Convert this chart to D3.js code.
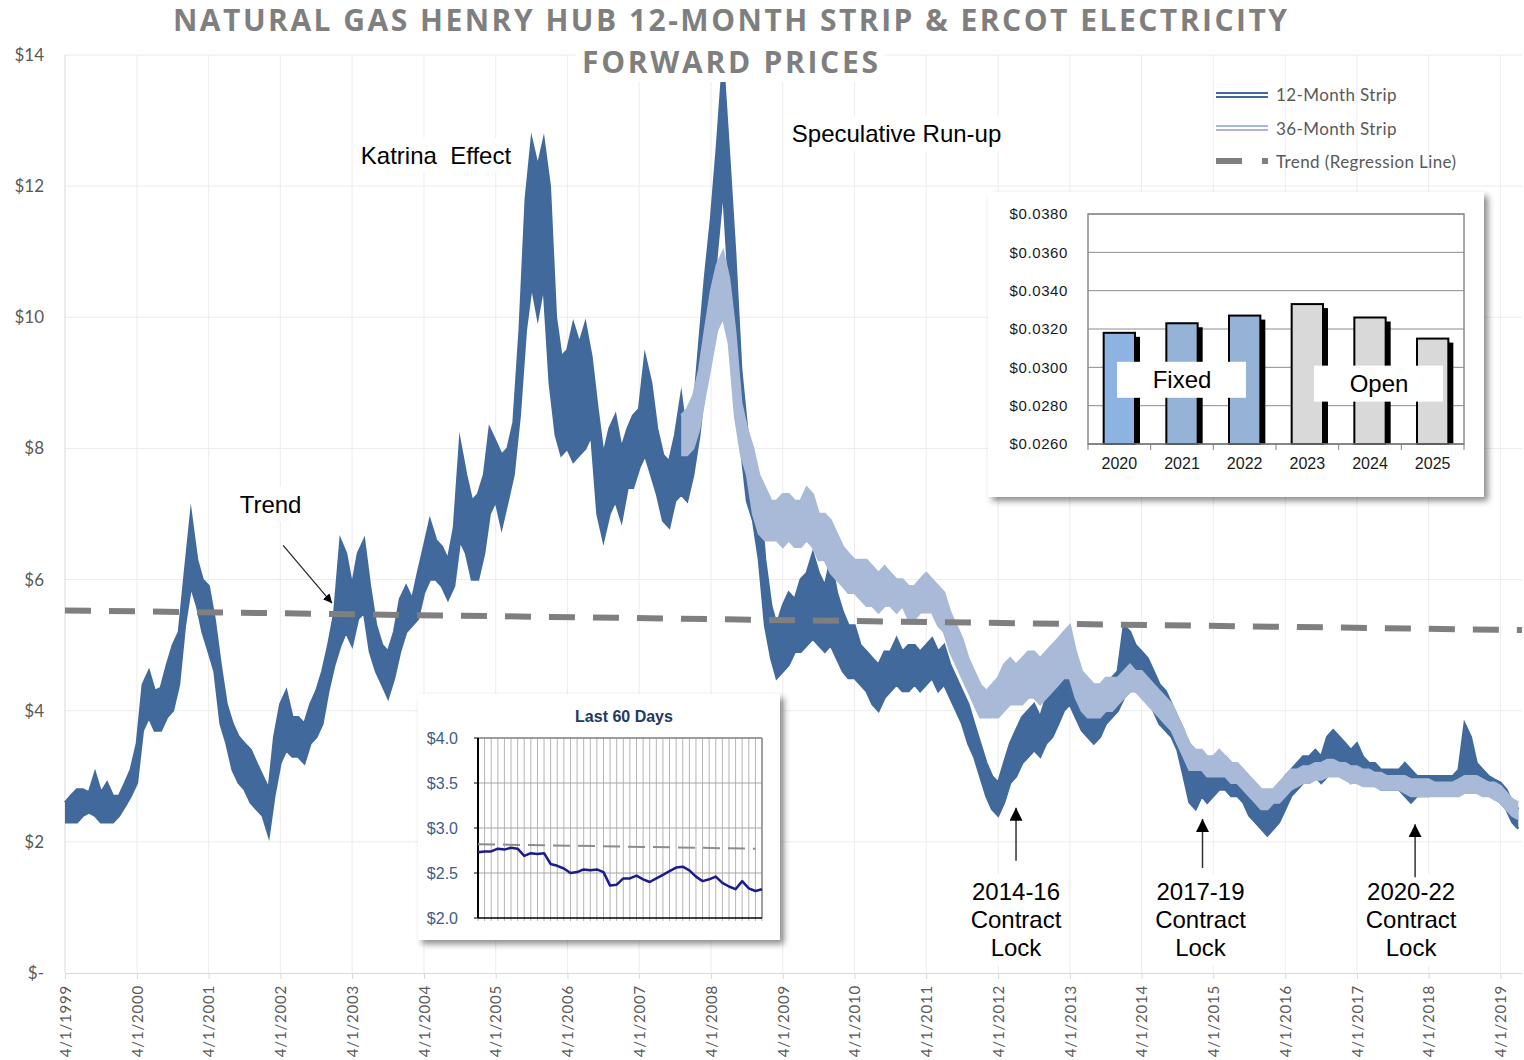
<!doctype html>
<html>
<head>
<meta charset="utf-8">
<script src="https://cdn.jsdelivr.net/npm/d3@7"></script>
<style>
  body { margin: 0; background: #fff; }
  svg { display: block; }
</style>
</head>
<body>
<script>
// Monthly low / high of the 12-month strip band, Apr 1999 .. Jul 2019
const strip12Low = [
  2.3, 2.3, 2.3, 2.4, 2.45, 2.4, 2.3, 2.3, 2.3,                 // 1999 Apr-Dec
  2.4, 2.55, 2.7, 2.9, 3.7, 3.9, 3.7, 3.7, 3.9, 4.0, 4.4, 5.3,   // 2000
  5.9, 5.6, 5.2, 4.9, 4.6, 3.8, 3.5, 3.1, 2.9, 2.8, 2.6, 2.5,    // 2001
  2.4, 2.1, 2.7, 3.2, 3.4, 3.3, 3.3, 3.2, 3.5, 3.6, 3.8, 4.3,    // 2002
  4.7, 5.0, 5.2, 5.0, 5.4, 5.5, 4.9, 4.6, 4.4, 4.2, 4.5, 4.9,    // 2003
  5.2, 5.3, 5.4, 5.8, 6.0, 6.0, 5.9, 5.7, 5.9, 6.6, 6.4, 6.0,    // 2004
  6.0, 6.4, 7.0, 7.2, 6.8, 7.2, 7.6, 8.5, 9.8, 10.5, 10.0, 10.5, // 2005
  9.0, 8.2, 7.9, 8.0, 7.8, 7.9, 8.0, 8.2, 7.0, 6.6, 7.0, 7.2,    // 2006
  6.9, 7.4, 7.4, 7.7, 7.9, 7.6, 7.3, 6.9, 6.8, 7.2, 7.3, 7.2,    // 2007
  7.6, 8.2, 9.0, 10.0, 11.0, 12.0, 10.5, 9.0, 8.0, 7.2, 6.9, 6.3,// 2008
  5.3, 4.8, 4.5, 4.6, 4.7, 4.9, 4.9, 5.0, 5.1, 5.0, 4.9, 5.0,    // 2009
  4.8, 4.6, 4.5, 4.5, 4.4, 4.3, 4.1, 4.0, 4.2, 4.3, 4.4, 4.3,    // 2010
  4.3, 4.4, 4.3, 4.4, 4.5, 4.3, 4.4, 4.2, 4.0, 3.8, 3.5, 3.3,    // 2011
  3.0, 2.7, 2.5, 2.4, 2.6, 2.9, 3.0, 3.2, 3.3, 3.4, 3.3, 3.5,    // 2012
  3.6, 3.8, 4.0, 4.1, 3.9, 3.7, 3.6, 3.5, 3.6, 3.8, 3.9, 4.0,    // 2013
  4.2, 4.3, 4.3, 4.3, 4.2, 4.0, 3.8, 3.7, 3.6, 3.4, 3.0, 2.6,    // 2014
  2.5, 2.7, 2.6, 2.7, 2.8, 2.8, 2.7, 2.7, 2.6, 2.4, 2.3, 2.2,    // 2015
  2.1, 2.2, 2.3, 2.5, 2.7, 2.8, 2.9, 2.9, 3.0, 2.9, 3.0, 3.1,    // 2016
  3.1, 3.0, 2.9, 3.0, 2.9, 2.9, 2.9, 2.8, 2.8, 2.8, 2.8, 2.7,    // 2017
  2.6, 2.7, 2.7, 2.7, 2.75, 2.75, 2.75, 2.75, 2.8, 2.9, 2.8, 2.8,// 2018
  2.8, 2.8, 2.7, 2.6, 2.5, 2.3, 2.2                              // 2019 Jan-Jul
];
const strip12High = [
  2.6, 2.7, 2.8, 2.8, 2.75, 3.05, 2.75, 2.9, 2.7,
  2.7, 2.9, 3.1, 3.5, 4.4, 4.6, 4.3, 4.35, 4.7, 5.0, 5.2, 6.1,
  7.0, 6.3, 6.0, 5.9, 5.4, 4.7, 4.1, 3.8, 3.6, 3.5, 3.4, 3.2,
  3.0, 2.8, 3.6, 4.1, 4.3, 3.9, 3.9, 3.8, 4.1, 4.3, 4.6, 5.0,
  5.5, 6.6, 6.4, 5.9, 6.4, 6.6, 5.9, 5.3, 5.0, 4.9, 5.2, 5.7,
  5.9, 5.7, 6.1, 6.5, 6.9, 6.6, 6.5, 6.3, 6.8, 8.1, 7.6, 7.2,
  7.3, 7.6, 8.3, 8.1, 7.9, 8.0, 8.4, 9.8, 11.8, 12.7, 12.3, 12.7,
  12.0, 10.0, 9.4, 9.5, 9.9, 9.6, 9.9, 9.4, 8.6, 7.9, 8.3, 8.5,
  8.0, 8.3, 8.5, 8.6, 9.4, 9.0, 8.3, 7.9, 7.8, 8.2, 8.8, 8.1,
  8.5, 9.6, 10.6, 11.5, 12.6, 13.9, 12.5, 11.0, 9.2, 8.3, 7.9, 7.4,
  6.3, 5.6, 5.3, 5.6, 5.8, 5.7, 6.0, 6.1, 6.4, 6.1, 5.9, 6.3,
  5.8, 5.5, 5.3, 5.3, 5.0, 4.9, 4.8, 4.7, 4.9, 4.9, 5.1, 4.9,
  5.0, 5.0, 4.9, 5.0, 5.1, 4.9, 5.0, 4.7, 4.5, 4.3, 4.1, 3.8,
  3.5, 3.2, 3.0, 2.9, 3.2, 3.5, 3.7, 3.9, 4.0, 4.1, 3.9, 4.2,
  4.3, 4.5, 4.6, 4.6, 4.5, 4.3, 4.2, 4.1, 4.2, 4.4, 4.5, 4.6,
  5.3, 5.2, 5.0, 4.9, 4.8, 4.6, 4.4, 4.3, 4.1, 3.9, 3.7, 3.3,
  3.2, 3.3, 3.2, 3.3, 3.3, 3.3, 3.2, 3.1, 3.0, 2.9, 2.8, 2.7,
  2.6, 2.6, 2.8, 3.0, 3.1, 3.2, 3.3, 3.3, 3.4, 3.3, 3.6, 3.7,
  3.6, 3.5, 3.4, 3.5, 3.3, 3.2, 3.2, 3.1, 3.1, 3.1, 3.1, 3.2,
  3.1, 3.0, 3.0, 3.0, 3.0, 3.0, 3.0, 3.0, 3.1, 3.8, 3.6, 3.2,
  3.1, 3.0, 2.95, 2.9, 2.8, 2.6, 2.5
];

// 36-month strip band, Nov 2007 .. Jul 2019
const strip36Start = 103; // months after Apr 1999
const strip36Low = [
  7.9, 7.9,
  8.0, 8.3, 8.8, 9.3, 9.8, 10.0, 9.6, 8.5, 7.9, 7.6, 7.0, 6.7,
  6.6, 6.6, 6.6, 6.5, 6.6, 6.5, 6.5, 6.6, 6.5, 6.3, 6.3, 6.1,
  6.0, 5.9, 5.8, 5.8, 5.7, 5.6, 5.6, 5.5, 5.6, 5.6, 5.5, 5.6,
  5.4, 5.4, 5.5, 5.5, 5.5, 5.3, 5.2, 4.9, 4.7, 4.5, 4.3, 4.1,
  3.9, 3.9, 3.9, 3.9, 4.0, 4.1, 4.1, 4.1, 4.2, 4.2, 4.1, 4.2,
  4.3, 4.4, 4.5, 4.5, 4.2, 4.0, 3.9, 3.9, 3.9, 4.0, 4.0, 4.1,
  4.2, 4.3, 4.3, 4.2, 4.1, 4.0, 3.9, 3.8, 3.7, 3.5, 3.3, 3.1,
  3.1, 3.1, 3.0, 3.0, 3.0, 3.0, 2.9, 2.9, 2.8, 2.7, 2.6, 2.5,
  2.5, 2.6, 2.6, 2.7, 2.8, 2.85, 2.9, 2.9, 2.95, 2.95, 3.0, 3.0,
  3.0, 2.95, 2.9, 2.9, 2.85, 2.85, 2.85, 2.8, 2.8, 2.8, 2.8, 2.75,
  2.7, 2.7, 2.7, 2.7, 2.7, 2.7, 2.7, 2.7, 2.7, 2.75, 2.75, 2.75,
  2.7, 2.7, 2.65, 2.6, 2.5, 2.4, 2.35
];
const strip36High = [
  8.5, 8.6,
  8.8, 9.2, 9.8, 10.4, 10.8, 11.0, 10.6, 9.8, 8.7, 8.3, 8.0, 7.6,
  7.4, 7.2, 7.2, 7.3, 7.3, 7.2, 7.2, 7.4, 7.3, 7.0, 7.0, 6.9,
  6.7, 6.5, 6.4, 6.3, 6.3, 6.3, 6.2, 6.1, 6.2, 6.1, 6.0, 6.0,
  5.9, 5.9, 6.0, 6.1, 6.0, 5.9, 5.8, 5.5, 5.3, 5.1, 4.8, 4.6,
  4.4, 4.3, 4.4, 4.5, 4.7, 4.8, 4.7, 4.8, 4.9, 4.9, 4.8, 4.9,
  5.0, 5.1, 5.2, 5.3, 4.9, 4.6, 4.5, 4.4, 4.4, 4.5, 4.5, 4.5,
  4.6, 4.7, 4.6, 4.6, 4.5, 4.4, 4.3, 4.2, 4.1, 3.9, 3.7, 3.5,
  3.4, 3.4, 3.3, 3.3, 3.4, 3.3, 3.2, 3.2, 3.1, 3.0, 2.9, 2.8,
  2.8, 2.8, 2.9, 3.0, 3.1, 3.1, 3.15, 3.15, 3.2, 3.2, 3.25, 3.25,
  3.2, 3.2, 3.15, 3.15, 3.1, 3.1, 3.05, 3.05, 3.0, 3.0, 3.0, 3.0,
  2.95, 2.95, 2.95, 2.95, 2.9, 2.9, 2.9, 2.9, 2.95, 3.0, 3.0, 3.0,
  2.95, 2.9, 2.9, 2.85, 2.75, 2.65, 2.6
];

// Regression trend line end points
const trendDates = [new Date(1999, 3, 1), new Date(2019, 6, 20)];
const trendValues = [5.53, 5.23];

// Electricity forward prices inset
const barYears = ["2020", "2021", "2022", "2023", "2024", "2025"];
const barValues = [0.0318, 0.0323, 0.0327, 0.0333, 0.0326, 0.0315];
const barColors = ["#8db3e2", "#95b3d7", "#95b3d7", "#d9d9d9", "#d9d9d9", "#d9d9d9"];
const barTicks = [0.026, 0.028, 0.030, 0.032, 0.034, 0.036, 0.038];

// Last 60 days inset
const last60 = [
  2.73, 2.74, 2.74, 2.77, 2.76, 2.78, 2.77, 2.69, 2.72, 2.71, 2.72,
  2.60, 2.58, 2.55, 2.50, 2.51, 2.54, 2.53, 2.54, 2.51, 2.36, 2.37,
  2.44, 2.44, 2.47, 2.43, 2.40, 2.44, 2.48, 2.52, 2.56, 2.57, 2.53,
  2.46, 2.41, 2.43, 2.46, 2.39, 2.35, 2.32, 2.41, 2.33, 2.30, 2.32
];
const last60Trend = [2.82, 2.77];
const last60Ticks = [2.0, 2.5, 3.0, 3.5, 4.0];

const yTicks = [0, 2, 4, 6, 8, 10, 12, 14];
const tickYears = d3.range(1999, 2020);

// Chart notes
const notes = [
  {text: "Katrina  Effect", date: new Date(2004, 5, 1), value: 12.47},
  {text: "Speculative Run-up", date: new Date(2010, 10, 1), value: 12.8},
  {text: "Trend", date: new Date(2002, 1, 10), value: 7.15}
];
const lockLabels = ["2014-16", "2017-19", "2020-22"];
const lockDates = [new Date(2012, 6, 1), new Date(2015, 1, 5), new Date(2018, 0, 22)];
const lockTips = [2.52, 2.35, 2.27];
const lockBases = [1.71, 1.6, 1.46];

// ---------------------------------------------------------------
const width = 1524, height = 1060;
const months = d3.timeMonth.range(new Date(1999, 3, 1), new Date(2019, 7, 1));

const x = d3.scaleTime([new Date(1999, 3, 1), new Date(2019, 6, 20)], [65, 1522]);
const y = d3.scaleLinear([0, 14], [973, 55]);

const svg = d3.select("body").append("svg")
    .attr("width", width)
    .attr("height", height)
    .attr("viewBox", [0, 0, width, height]);

const defs = svg.append("defs");
defs.append("filter")
    .attr("id", "shadow")
    .attr("x", "-5%").attr("y", "-5%").attr("width", "115%").attr("height", "115%")
  .append("feDropShadow")
    .attr("dx", 4).attr("dy", 4).attr("stdDeviation", 3)
    .attr("flood-color", "#000").attr("flood-opacity", 0.45);
defs.append("marker")
    .attr("id", "headSmall")
    .attr("viewBox", "0 0 10 10").attr("refX", 10).attr("refY", 5)
    .attr("markerWidth", 9).attr("markerHeight", 9)
    .attr("markerUnits", "userSpaceOnUse").attr("orient", "auto")
  .append("path").attr("d", "M0,0L10,5L0,10z").attr("fill", "#000");
defs.append("marker")
    .attr("id", "headBig")
    .attr("viewBox", "0 0 10 10").attr("refX", 10).attr("refY", 5)
    .attr("markerWidth", 13).attr("markerHeight", 13)
    .attr("markerUnits", "userSpaceOnUse").attr("orient", "auto")
  .append("path").attr("d", "M0,0L10,5L0,10z").attr("fill", "#000");

// Gridlines
const grid = svg.append("g").attr("stroke", "#ececec").attr("stroke-width", 1);
grid.selectAll("line.h")
  .data(yTicks.slice(1))
  .join("line")
    .attr("x1", x.range()[0]).attr("x2", x.range()[1])
    .attr("y1", (d) => y(d)).attr("y2", (d) => y(d));
grid.selectAll("line.v")
  .data(tickYears.slice(1))
  .join("line")
    .attr("x1", (d) => x(new Date(d, 3, 1))).attr("x2", (d) => x(new Date(d, 3, 1)))
    .attr("y1", y(14)).attr("y2", y(0));
svg.append("line")
    .attr("x1", x.range()[0]).attr("x2", x.range()[0])
    .attr("y1", y(14)).attr("y2", y(0))
    .attr("stroke", "#d9d9d9");

// X axis
const xAxis = svg.append("g")
    .attr("transform", `translate(0,${y(0)})`)
    .call(d3.axisBottom(x)
      .tickValues(tickYears.map((d) => new Date(d, 3, 1)))
      .tickSize(6).tickSizeOuter(0)
      .tickFormat(d3.timeFormat("%-m/%-d/%Y")));
xAxis.select(".domain").attr("stroke", "#d9d9d9");
xAxis.selectAll(".tick line").attr("stroke", "#d9d9d9");
xAxis.selectAll(".tick text")
    .attr("transform", "rotate(-90)")
    .attr("x", -12).attr("y", 0).attr("dy", "0.35em")
    .attr("text-anchor", "end")
    .attr("fill", "#595959")
    .attr("letter-spacing", 0.8)
    .style("font", "15px Lato");

// Y labels
svg.append("g")
  .selectAll("text")
  .data(yTicks)
  .join("text")
    .attr("x", 44).attr("y", (d) => y(d)).attr("dy", "0.35em")
    .attr("text-anchor", "end")
    .attr("fill", "#595959")
    .style("font", "17px Lato")
    .text((d) => d === 0 ? "$-" : "$" + d);

// Notes with white backing
function addNote(lines, cx, cy, lh) {
  const g = svg.append("g");
  const t = g.append("text")
      .attr("text-anchor", "middle")
      .attr("fill", "#000")
      .style("font", "24px 'Liberation Sans', Arial, sans-serif")
      .style("white-space", "pre");
  lines.forEach((s, i) => {
    t.append("tspan").attr("x", cx).attr("y", cy + (i - (lines.length - 1) / 2) * lh).attr("dy", "0.35em").text(s);
  });
  const b = t.node().getBBox();
  g.insert("rect", "text")
      .attr("x", b.x - 6).attr("y", b.y - 4)
      .attr("width", b.width + 12).attr("height", b.height + 8)
      .attr("fill", "#fff");
}
notes.forEach((n) => addNote([n.text], x(n.date), y(n.value), 28));
lockLabels.forEach((l, i) => addNote([l, "Contract", "Lock"], x(lockDates[i]) - [0, 2, 4][i], 920, 28));

// Strip bands
const area = (lo, hi, dates) => d3.area()
    .x((d, i) => x(dates[i]))
    .y0((d, i) => y(lo[i]))
    .y1((d, i) => y(hi[i]))(lo);
const line = (vals, dates) => d3.line()
    .x((d, i) => x(dates[i]))
    .y((d) => y(d))(vals);

function drawBand(lo, hi, dates, color) {
  const g = svg.append("g");
  g.append("path").attr("d", area(lo, hi, dates)).attr("fill", color);
  g.selectAll("path.l")
    .data([lo, hi])
    .join("path")
      .attr("d", (d) => line(d, dates))
      .attr("fill", "none")
      .attr("stroke", color)
      .attr("stroke-width", 2.5)
      .attr("stroke-linejoin", "miter")
      .attr("stroke-miterlimit", 20);
}
drawBand(strip12Low, strip12High, months, "#41699b");
drawBand(strip36Low, strip36High, months.slice(strip36Start), "#a8bad7");

// Trend line
svg.append("path")
    .attr("d", d3.line().x((d) => x(d)).y((d, i) => y(trendValues[i]))(trendDates))
    .attr("fill", "none")
    .attr("stroke", "#7f7f7f")
    .attr("stroke-width", 6)
    .attr("stroke-dasharray", "26,18");

// Arrows
svg.append("line")
    .attr("x1", x(new Date(2002, 3, 15))).attr("y1", y(6.52))
    .attr("x2", x(new Date(2002, 11, 20))).attr("y2", y(5.64))
    .attr("stroke", "#222").attr("stroke-width", 1.2)
    .attr("marker-end", "url(#headSmall)");
svg.append("g")
  .selectAll("line")
  .data(lockDates)
  .join("line")
    .attr("x1", (d) => x(d)).attr("x2", (d) => x(d))
    .attr("y1", (d, i) => y(lockBases[i])).attr("y2", (d, i) => y(lockTips[i]))
    .attr("stroke", "#333").attr("stroke-width", 1.5)
    .attr("marker-end", "url(#headBig)");

// Legend
const legend = svg.append("g").style("font", "17px Lato").attr("fill", "#595959").attr("letter-spacing", 0.4);
[93, 97].forEach((yy) =>
  legend.append("line").attr("x1", 1216).attr("x2", 1268).attr("y1", yy).attr("y2", yy)
    .attr("stroke", "#41699b").attr("stroke-width", 2));
[126, 130].forEach((yy) =>
  legend.append("line").attr("x1", 1216).attr("x2", 1268).attr("y1", yy).attr("y2", yy)
    .attr("stroke", "#a8bad7").attr("stroke-width", 2));
legend.append("line").attr("x1", 1216).attr("x2", 1268).attr("y1", 161).attr("y2", 161)
    .attr("stroke", "#7f7f7f").attr("stroke-width", 6).attr("stroke-dasharray", "26,20");
legend.selectAll("text")
  .data(["12-Month Strip", "36-Month Strip", "Trend (Regression Line)"])
  .join("text")
    .attr("x", 1276).attr("y", (d, i) => [95, 129, 162][i]).attr("dy", "0.35em")
    .text((d) => d);

// Bar inset
const barBox = svg.append("g");
barBox.append("rect")
    .attr("x", 988).attr("y", 192).attr("width", 496).attr("height", 305)
    .attr("fill", "#fff").attr("filter", "url(#shadow)");
const xb = d3.scaleBand(barYears, [1088, 1464]).paddingInner(0.5).paddingOuter(0.25);
const yb = d3.scaleLinear([0.026, 0.038], [444, 214]);
barBox.append("g")
  .selectAll("line")
  .data(barTicks)
  .join("line")
    .attr("x1", 1088).attr("x2", 1464)
    .attr("y1", (d) => yb(d)).attr("y2", (d) => yb(d))
    .attr("stroke", "#8c8c8c").attr("stroke-width", 1);
barBox.append("rect")
    .attr("x", 1088).attr("y", yb(0.038)).attr("width", 376).attr("height", yb(0.026) - yb(0.038))
    .attr("fill", "none").attr("stroke", "#8c8c8c").attr("stroke-width", 1.5);
barBox.append("g")
  .selectAll("rect")
  .data(barValues)
  .join("rect")
    .attr("x", (d, i) => xb(barYears[i]) + 5)
    .attr("y", (d) => yb(d) + 4)
    .attr("width", xb.bandwidth())
    .attr("height", (d) => yb(0.026) - yb(d) - 4)
    .attr("fill", "#000");
barBox.append("g")
  .selectAll("rect")
  .data(barValues)
  .join("rect")
    .attr("x", (d, i) => xb(barYears[i]))
    .attr("y", (d) => yb(d))
    .attr("width", xb.bandwidth())
    .attr("height", (d) => yb(0.026) - yb(d))
    .attr("fill", (d, i) => barColors[i])
    .attr("stroke", "#000").attr("stroke-width", 2);
barBox.append("line")
    .attr("x1", 1088).attr("x2", 1464).attr("y1", 444).attr("y2", 444)
    .attr("stroke", "#7f7f7f").attr("stroke-width", 1.5);
barBox.append("g")
  .selectAll("line")
  .data(d3.range(barYears.length + 1))
  .join("line")
    .attr("x1", (d) => 1088 + d * xb.step()).attr("x2", (d) => 1088 + d * xb.step())
    .attr("y1", 444).attr("y2", 450)
    .attr("stroke", "#7f7f7f");
barBox.append("g")
  .selectAll("text")
  .data(barTicks)
  .join("text")
    .attr("x", 1068).attr("y", (d) => yb(d)).attr("dy", "0.35em")
    .attr("text-anchor", "end")
    .attr("fill", "#1a1a1a")
    .attr("letter-spacing", 0.6)
    .style("font", "15px 'Liberation Sans', Arial, sans-serif")
    .text((d) => "$" + d.toFixed(4));
barBox.append("g")
  .selectAll("text")
  .data(barYears)
  .join("text")
    .attr("x", (d) => xb(d) + xb.bandwidth() / 2).attr("y", 463).attr("dy", "0.35em")
    .attr("text-anchor", "middle")
    .attr("fill", "#1a1a1a")
    .style("font", "16px 'Liberation Sans', Arial, sans-serif")
    .text((d) => d);
[["Fixed", "2021", 0.02935, 0], ["Open", "2024", 0.02915, 9]].forEach(([label, yr, v, dx]) => {
  const cx = xb(yr) + xb.bandwidth() / 2 + dx;
  barBox.append("rect")
      .attr("x", cx - 65).attr("y", yb(v) - 18).attr("width", 129).attr("height", 36)
      .attr("fill", "#fff");
  barBox.append("text")
      .attr("x", cx).attr("y", yb(v)).attr("dy", "0.35em")
      .attr("text-anchor", "middle")
      .style("font", "24px 'Liberation Sans', Arial, sans-serif")
      .text(label);
});

// Last 60 days inset
const box60 = svg.append("g");
box60.append("rect")
    .attr("x", 418).attr("y", 694).attr("width", 362).attr("height", 246)
    .attr("fill", "#fff").attr("filter", "url(#shadow)");
const x60 = d3.scaleLinear([0, last60.length - 1], [478, 762]);
const y60 = d3.scaleLinear([2, 4], [918, 738]);
box60.append("text")
    .attr("x", 624).attr("y", 716).attr("dy", "0.35em")
    .attr("text-anchor", "middle")
    .attr("fill", "#203a63")
    .style("font", "bold 16px 'Liberation Sans', Arial, sans-serif")
    .text("Last 60 Days");
box60.append("g")
  .selectAll("line")
  .data(last60)
  .join("line")
    .attr("x1", (d, i) => x60(i)).attr("x2", (d, i) => x60(i))
    .attr("y1", y60(4)).attr("y2", y60(2) + 3)
    .attr("stroke", "#b5b5b5").attr("stroke-width", 1);
box60.append("g")
  .selectAll("line")
  .data(last60Ticks.slice(1))
  .join("line")
    .attr("x1", 478).attr("x2", 762)
    .attr("y1", (d) => y60(d)).attr("y2", (d) => y60(d))
    .attr("stroke", "#a6a6a6").attr("stroke-width", 1);
box60.append("line")
    .attr("x1", 762).attr("x2", 762).attr("y1", 738).attr("y2", 918)
    .attr("stroke", "#8c8c8c").attr("stroke-width", 1.5);
box60.append("line")
    .attr("x1", 478).attr("x2", 762).attr("y1", 738).attr("y2", 738)
    .attr("stroke", "#8c8c8c").attr("stroke-width", 1.5);
box60.append("line")
    .attr("x1", 478).attr("x2", 478).attr("y1", 738).attr("y2", 918)
    .attr("stroke", "#000").attr("stroke-width", 2);
box60.append("line")
    .attr("x1", 478).attr("x2", 762).attr("y1", 918).attr("y2", 918)
    .attr("stroke", "#000").attr("stroke-width", 1.5);
box60.append("g")
  .selectAll("line")
  .data(last60Ticks)
  .join("line")
    .attr("x1", 474).attr("x2", 478)
    .attr("y1", (d) => y60(d)).attr("y2", (d) => y60(d))
    .attr("stroke", "#000");
box60.append("g")
  .selectAll("text")
  .data(last60Ticks)
  .join("text")
    .attr("x", 458).attr("y", (d) => y60(d)).attr("dy", "0.35em")
    .attr("text-anchor", "end")
    .attr("fill", "#3e5c8a")
    .style("font", "16px 'Liberation Sans', Arial, sans-serif")
    .text((d) => "$" + d.toFixed(1));
box60.append("path")
    .attr("d", d3.line().x((d, i) => x60([0, last60.length - 2][i])).y((d) => y60(d))(last60Trend))
    .attr("fill", "none")
    .attr("stroke", "#8c8c8c").attr("stroke-width", 2)
    .attr("stroke-dasharray", "17,8");
box60.append("path")
    .attr("d", d3.line().x((d, i) => x60(i)).y((d) => y60(d))(last60))
    .attr("fill", "none")
    .attr("stroke", "#1c1c8c").attr("stroke-width", 2.5)
    .attr("stroke-linejoin", "round");

// Title
const title = svg.append("g")
    .attr("fill", "#7f7f7f")
    .style("font", "bold 30px 'Open Sans', sans-serif");
const t2bg = title.append("rect").attr("fill", "#fff");
title.append("text")
    .attr("x", 730).attr("y", 31)
    .attr("text-anchor", "middle")
    .attr("textLength", 1114).attr("lengthAdjust", "spacing")
    .text("NATURAL GAS HENRY HUB 12-MONTH STRIP & ERCOT ELECTRICITY");
const t2 = title.append("text")
    .attr("x", 730).attr("y", 73)
    .attr("text-anchor", "middle")
    .attr("textLength", 296).attr("lengthAdjust", "spacing")
    .text("FORWARD PRICES");
const tb = t2.node().getBBox();
t2bg.attr("x", tb.x - 6).attr("y", tb.y).attr("width", tb.width + 12).attr("height", tb.height);
</script>
</body>
</html>
